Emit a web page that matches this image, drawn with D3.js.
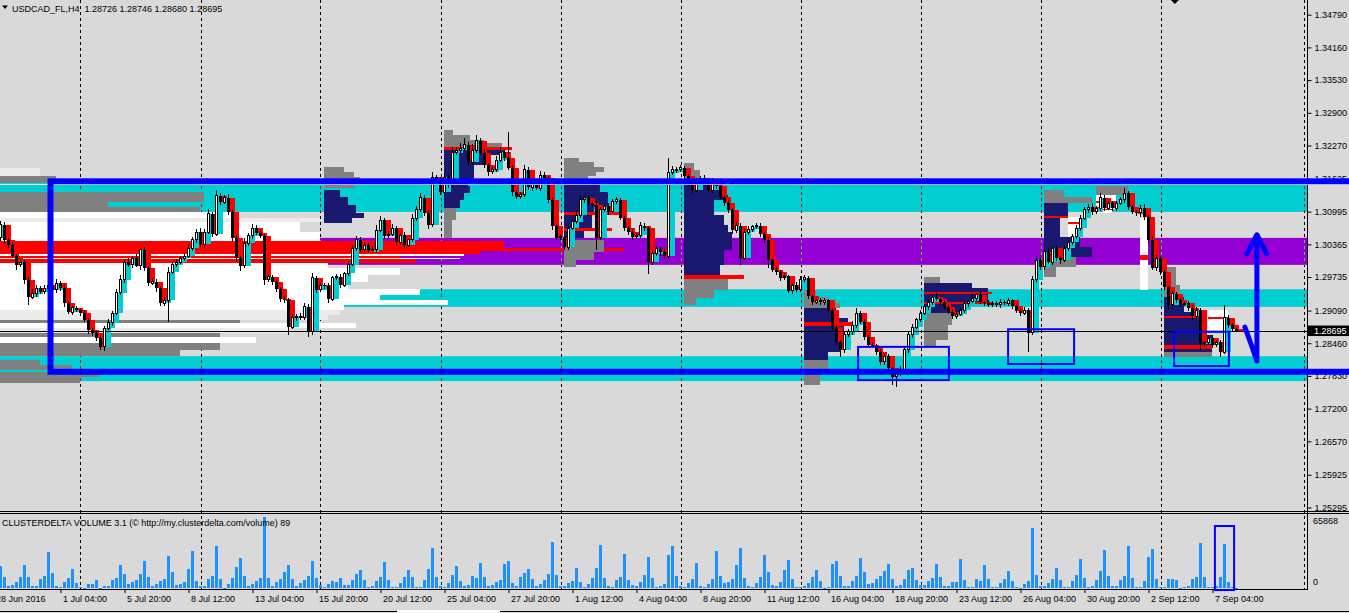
<!DOCTYPE html>
<html>
<head>
<meta charset="utf-8">
<script src="https://cdnjs.cloudflare.com/ajax/libs/d3/7.8.5/d3.min.js"></script>
<style>
html,body{margin:0;padding:0;background:#d9d9d9;overflow:hidden}
svg{display:block;font-family:"Liberation Sans",Arial,sans-serif;font-size:9px}
</style>
</head>
<body>
<div id="chart"></div>
<script>
// ---- data ----
const symbolTitle = "USDCAD_FL,H4  1.28726 1.28746 1.28680 1.28695";
const volTitle = "CLUSTERDELTA VOLUME 3.1 (\u00a9 http://my.clusterdelta.com/volume) 89";
const lastPrice = 1.28695;
const firstOpen = 1.3049;

const closes = [
1.3074,1.3045,1.3035,1.3014,1.2997,1.3002,1.2968,1.2935,1.2941,1.2952,
1.2945,1.2952,1.2958,1.2949,1.2962,1.2952,1.2923,1.2906,1.2914,1.2910,
1.2904,1.2891,1.2871,1.2866,1.2856,1.2839,1.2875,1.2885,1.2904,1.2943,
1.2968,1.3002,1.2997,1.3010,1.2995,1.3026,1.2991,1.2962,1.2964,1.2952,
1.2923,1.2929,1.2983,1.2997,1.3002,1.3010,1.3014,1.3029,1.3045,1.3060,
1.3037,1.3060,1.3095,1.3056,1.3130,1.3118,1.3126,1.3099,1.3049,1.3010,
1.2995,1.3039,1.3053,1.3068,1.3058,1.3053,1.2968,1.2974,1.2964,1.2950,
1.2931,1.2929,1.2877,1.2895,1.2898,1.2895,1.2916,1.2868,1.2972,1.2949,
1.2958,1.2956,1.2931,1.2972,1.2974,1.2958,1.2981,1.2997,1.3029,1.3045,
1.3026,1.3035,1.3026,1.3026,1.3064,1.3083,1.3053,1.3056,1.3068,1.3041,
1.3054,1.3035,1.3045,1.3087,1.3103,1.3126,1.3097,1.3074,1.3166,1.3160,
1.3137,1.3166,1.3151,1.3213,1.3218,1.3222,1.3228,1.3195,1.3218,1.3236,
1.3213,1.3189,1.3176,1.3180,1.3199,1.3214,1.3203,1.3184,1.3137,1.3128,
1.3132,1.3180,1.3147,1.3151,1.3145,1.3170,1.3164,1.3122,1.3072,1.3049,
1.3051,1.3031,1.3068,1.3080,1.3093,1.3122,1.3126,1.3116,1.3112,1.3049,
1.3103,1.3110,1.3099,1.3120,1.3122,1.3087,1.3068,1.3060,1.3051,1.3054,
1.3072,1.3068,1.3002,1.3018,1.3028,1.3022,1.3014,1.3174,1.3180,1.3180,
1.3184,1.3168,1.3155,1.3141,1.3157,1.3164,1.3160,1.3141,1.3157,1.3149,
1.3128,1.3116,1.3103,1.3064,1.3072,1.3010,1.3060,1.3066,1.3070,1.3072,
1.3056,1.3045,1.3006,1.2987,1.2983,1.2972,1.2975,1.2947,1.2958,1.2949,
1.2968,1.2972,1.2937,1.2925,1.2929,1.2925,1.2929,1.2910,1.2877,1.2848,
1.2833,1.2862,1.2868,1.2881,1.2904,1.2887,1.2858,1.2843,1.2841,1.2829,
1.2810,1.2821,1.2798,1.2781,1.2789,1.2794,1.2833,1.2862,1.2877,1.2891,
1.2904,1.2916,1.2925,1.2935,1.2931,1.2925,1.2916,1.2906,1.2898,1.2902,
1.2910,1.2922,1.2927,1.2933,1.2939,1.2925,1.2923,1.2920,1.2923,1.2920,
1.2925,1.2923,1.2929,1.2918,1.2908,1.2904,1.2910,1.2866,1.2968,1.3006,
1.2993,1.3022,1.3002,1.3029,1.3010,1.3006,1.3029,1.3041,1.3051,1.3068,
1.3087,1.3103,1.3108,1.3099,1.3106,1.3126,1.3106,1.3116,1.3106,1.3116,
1.3122,1.3135,1.3108,1.3099,1.3097,1.3106,1.3089,1.3045,1.2991,1.3010,
1.2983,1.2954,1.2920,1.2941,1.2929,1.2922,1.2923,1.2914,1.2898,1.2910,
1.2846,1.2848,1.2856,1.2843,1.2848,1.2829,1.2895,1.2881,1.28726,1.28695
];

// wick lengths beyond the body, in pips
const hiWick = [
8,5,4,6,3,7,4,5,9,6, 4,6,8,5,7,3,6,4,5,3, 4,6,3,5,4,6,5,8,4,7, 9,6,8,5,7,4,6,3,8,5,
4,6,9,5,7,4,6,8,5,7, 8,6,10,4,12,6,5,7,4,6, 5,9,6,7,5,8,4,6,3,5, 4,6,5,7,4,6,8,5,10,4,
6,5,7,4,6,5,3,7,6,8, 5,6,4,7,9,8,5,6,7,4, 5,6,4,8,7,10,5,6,10,5, 6,8,4,12,7,9,14,6,11,12,
5,7,4,6,8,10,6,50,5,4, 6,9,5,4,6,7,5,4,6,3, 5,4,8,6,7,9,5,6,4,7, 6,5,7,4,6,3,5,4,6,5,
7,5,4,6,5,4,6,29,8,5, 6,4,5,7,8,4,6,5,7,4, 5,4,6,3,7,5,8,6,4,5, 6,4,5,3,6,4,7,3,5,6,
8,5,4,3,6,4,5,3,4,5, 4,6,5,7,9,4,5,3,6,4, 5,7,4,3,6,8,5,7,6,4, 6,5,7,4,8,3,5,4,6,5,
4,6,5,7,4,5,3,6,4,5, 6,4,5,3,4,5,6,4,7,9, 5,6,8,4,7,5,6,4,5,6, 7,5,6,8,4,9,5,6,4,5,
6,10,4,5,3,6,8,5,7,6, 4,5,3,6,4,5,3,4,6,5, 4,3,5,6,4,5,25,6,4,2
];
const loWick = [
6,8,5,4,9,5,7,15,4,6, 5,4,6,3,7,5,8,4,6,3, 5,4,7,6,5,6,8,4,5,3, 4,6,5,7,3,8,5,6,4,7,
6,5,42,4,5,3,6,4,5,6, 5,7,4,6,3,5,4,6,8,7, 9,4,5,6,4,5,10,4,6,5, 6,5,15,4,6,5,4,10,6,7,
5,6,8,4,5,6,4,5,3,6, 4,5,7,3,5,4,6,5,4,8, 5,6,4,3,5,4,6,8,5,7, 5,4,6,5,4,6,5,7,4,5,
6,5,8,4,5,3,6,5,7,4, 5,4,6,7,3,5,4,6,8,5, 4,6,5,3,4,5,6,4,5,23, 5,4,6,3,5,4,6,5,7,4,
5,6,23,5,4,8,6,5,4,6, 5,4,6,5,4,6,5,4,6,5, 4,5,6,8,5,13,4,5,6,4, 5,6,15,4,5,6,4,5,6,4,
5,4,6,5,4,6,5,4,7,6, 13,5,4,6,5,4,6,5,4,5, 6,5,8,15,20,6,4,5,6,4, 5,4,6,5,4,6,5,4,5,6,
4,5,6,4,5,4,6,5,4,5, 6,4,5,6,4,5,4,37,5,4, 6,5,4,6,5,7,4,5,6,4, 5,4,6,5,4,6,5,4,6,5,
4,5,6,4,5,7,5,6,4,5, 6,5,8,4,5,6,4,5,7,4, 13,5,4,6,5,10,4,5,4,1.5
];

const volumes = [
20420,10210,1860,2780,5570,10210,21340,10210,1860,1860,
8350,11140,33410,13920,1860,930,5570,9280,17630,4640,
930,460,3710,3710,7420,300,1860,1860,7420,9280,
21340,12990,3710,5570,7420,12990,25060,10210,1860,3710,
6500,8350,29700,14850,2780,3710,5570,17630,34340,6500,
1860,1860,8350,11140,38980,8350,300,3710,9280,19490,
27840,11140,1860,3710,6500,9280,65868,9280,1860,5570,
8350,14850,21340,8350,1860,4640,7420,11140,25060,9280,
2780,930,3710,6500,5570,9280,2780,2780,7420,12990,
16700,7420,930,1860,6500,10210,24130,7420,930,930,
4640,10210,16700,10210,930,930,7420,17630,37120,10210,
1860,930,4640,12060,20420,6500,1860,2780,11140,9280,
23200,10210,1860,2780,5570,7420,22270,25060,4640,1860,
10210,13920,17630,8350,1860,3710,7420,12990,42690,12060,
1860,1860,4640,6500,18560,5570,930,3710,9280,18560,
39900,9280,1860,930,7420,10210,31550,7420,2780,1860,
5570,12060,28770,9280,930,1860,3710,30620,38980,11140,
1860,930,4640,8350,23200,1860,930,3710,8350,34340,
11140,4640,5570,8350,21340,37120,9280,1860,930,4640,
10210,30620,14850,2780,1860,5570,16700,25980,8350,930,
930,1860,4640,10210,16700,6500,300,930,22270,25060,
11140,1860,1860,6500,11140,27840,14850,3710,4640,8350,
11140,15780,22270,
8350,1860,2780,8350,16700,18560,7420,2780,2780,6500,
9280,22270,10210,1860,1860,5570,5570,26910,7420,930,
930,8350,6500,21340,8350,930,930,4640,8350,15780,
6500,930,300,3710,6500,55680,12060,1860,1860,4640,
8350,18560,7420,930,930,6500,12060,26910,9280,930,
1860,7420,15780,35260,11140,1860,1860,7420,11140,38980,
9280,930,930,6500,28770,36190,8350,930,930,8350,
8350,7420,300,930,1860,8350,10210,41760,10210,930,
930,1860,10210,40830,5570,930,460
];
const volMax = 65868;

const priceTicks = [1.34790,1.34160,1.33530,1.32900,1.32270,1.31625,1.30995,1.30365,1.29735,1.29090,1.28460,1.27830,1.27200,1.26570,1.25925,1.25295];
const timeIdx = [-1.75,15,31,47,63,79,95,111,127,143,159,175,191,207,223,239,255,271,287,303];
const timeLabels = ["28 Jun 2016","1 Jul 04:00","5 Jul 20:00","8 Jul 12:00","13 Jul 04:00","15 Jul 20:00","20 Jul 12:00","25 Jul 04:00","27 Jul 20:00","1 Aug 12:00","4 Aug 04:00","8 Aug 20:00","11 Aug 12:00","16 Aug 04:00","18 Aug 20:00","23 Aug 12:00","26 Aug 04:00","30 Aug 20:00","2 Sep 12:00","7 Sep 04:00"];
const gridIdx = [20,50,80,110,140,170,200,230,260,290,326];

// horizontal zones [top, bottom, kind]
const zones = [[1.3158,1.3099,"cyan"],[1.3049,1.2997,"purple"],[1.2950,1.2916,"cyan"],[1.2821,1.2773,"cyan"]];

// volume profiles: rows [priceTop, priceBottom, volume (bar units), kind]
const profAll = [
[1.3184,1.3168,10,"lt"],[1.3168,1.3155,14,"out"],
[1.3137,1.3118,51,"out"],[1.3118,1.3108,27,"out"],[1.3108,1.3099,50,"out"],
[1.3099,1.3087,59,"hv"],[1.3087,1.3080,80,"lt"],[1.3080,1.3060,75,"hv"],[1.3060,1.3043,80,"hv"],
[1.3043,1.3029,126,"poc"],[1.3029,1.3024,156,"poc"],[1.3024,1.3018,120,"poc"],[1.3018,1.3015,116,"hv"],
[1.3015,1.3011,100,"poc"],[1.3011,1.3008,115,"hv"],[1.3008,1.3000,104,"poc"],
[1.3000,1.2991,82,"hv"],[1.2991,1.2977,100,"hv"],[1.2977,1.2964,92,"hv"],[1.2964,1.2950,87,"hv"],
[1.2950,1.2939,105,"hv"],[1.2939,1.2929,95,"hv"],[1.2929,1.2920,112,"hv"],[1.2920,1.2910,86,"hv"],
[1.2910,1.2900,85,"lt"],[1.2900,1.2891,82,"lt"],[1.2891,1.2885,60,"out"],[1.2885,1.2875,89,"hv"],
[1.2875,1.2866,72,"lt"],[1.2866,1.2858,55,"out"],[1.2858,1.2846,64,"hv"],[1.2846,1.2833,55,"out"],
[1.2833,1.2821,45,"out"],[1.2814,1.2804,10,"out"],[1.2804,1.2794,18,"out"],[1.2790,1.2781,25,"out"],[1.2781,1.2769,20,"out"]
];
const profWk1 = [
[1.3185,1.3176,5,"out"],[1.3176,1.3166,7.5,"out"],[1.3166,1.3157,9,"out"],[1.3157,1.3145,7.5,"out"],
[1.3141,1.3128,4,"va"],[1.3128,1.3112,6,"va"],[1.3112,1.3097,8,"va"],[1.3097,1.3087,10,"va"],[1.3087,1.3078,7,"va"]
];
const profWk2 = [
[1.3257,1.3247,2.25,"out"],[1.3247,1.3238,6.5,"out"],[1.3238,1.3232,10,"out"],[1.3232,1.3224,14.5,"out"],
[1.3224,1.3218,17,"poc"],[1.3218,1.3209,15,"va"],[1.3209,1.3189,10,"va"],[1.3189,1.3160,7.5,"va"],
[1.3160,1.3149,6,"va"],[1.3149,1.3135,6.5,"va"],[1.3135,1.3122,5,"va"],[1.3122,1.3107,4,"va"],[1.3107,1.3083,3,"out"],[1.3083,1.3049,2,"out"]
];
const profWk3 = [
[1.3203,1.3195,3.75,"out"],[1.3195,1.3185,7.5,"out"],[1.3185,1.3176,10,"out"],[1.3176,1.3168,8,"out"],[1.3168,1.3160,6,"out"],
[1.3160,1.3137,9,"va"],[1.3137,1.3108,11,"va"],[1.3108,1.3099,7.5,"va"],[1.3099,1.3093,15,"poc"],[1.3093,1.3068,7,"va"],
[1.3068,1.3062,12,"poc"],[1.3062,1.3049,5,"va"],[1.3045,1.3022,10,"out"],[1.3022,1.3006,7.5,"out"],[1.3006,1.2993,3,"out"]
];
const profWk4 = [
[1.3193,1.3180,2.5,"out"],[1.3180,1.3160,4,"out"],
[1.3160,1.3132,9,"va"],[1.3132,1.3122,11,"va"],[1.3122,1.3093,7.5,"va"],[1.3093,1.3074,10,"va"],[1.3074,1.3060,11,"va"],
[1.3060,1.3026,12,"va"],[1.3026,1.2997,10,"va"],[1.2997,1.2977,9,"va"],[1.2977,1.2970,15,"poc"],
[1.2970,1.2949,11,"out"],[1.2949,1.2933,7.5,"out"],[1.2933,1.2920,3,"out"]
];
const profWk5 = [
[1.2949,1.2935,3,"out"],[1.2935,1.2923,6,"out"],[1.2923,1.2914,9,"out"],
[1.2914,1.2895,8,"va"],[1.2895,1.2887,11,"va"],[1.2887,1.2879,12,"poc"],[1.2879,1.2852,10,"va"],[1.2852,1.2829,9,"va"],[1.2829,1.2814,6,"va"],
[1.2814,1.2794,6,"out"],[1.2794,1.2765,4,"out"]
];
const profWk6 = [
[1.2974,1.2962,4,"out"],[1.2962,1.2952,12,"va"],[1.2952,1.2945,16,"va"],[1.2945,1.2941,17,"poc"],[1.2941,1.2925,16,"va"],
[1.2925,1.2921,17,"poc"],[1.2921,1.2904,10,"va"],[1.2904,1.2881,7,"out"],[1.2881,1.2852,6,"out"],[1.2852,1.2839,3,"out"]
];
const profWk7 = [
[1.3141,1.3128,5,"out"],[1.3128,1.3116,12,"out"],[1.3116,1.3091,6,"va"],[1.3091,1.3087,6,"poc"],[1.3087,1.3051,4,"va"],
[1.3051,1.3031,9,"va"],[1.3031,1.3012,12,"va"],[1.3012,1.2993,8,"out"],[1.2993,1.2974,3,"out"]
];
const profWk8 = [
[1.2993,1.2958,3,"out"],[1.2958,1.2935,4,"out"],[1.2935,1.2906,5,"va"],[1.2906,1.2898,8,"va"],[1.2898,1.2895,9,"poc"],
[1.2895,1.2862,10,"va"],[1.2862,1.2843,12,"va"],[1.2843,1.2835,12,"poc"],[1.2835,1.2829,12,"va"],[1.2829,1.2819,12,"out"]
];
const profDay1 = [[1.3089,1.3080,3,"hv"],[1.3080,1.3076,3,"poc"],[1.3076,1.3051,3,"hv"]];
const profDay2 = [[1.3149,1.3132,8,"out"],[1.3132,1.3120,5,"hv"],[1.3120,1.3117,5,"poc"],[1.3117,1.3105,5,"hv"],[1.3105,1.3102,4,"poc"],[1.3102,1.3097,4,"hv"]];
const profDay3 = [[1.3087,1.3016,2,"hv"],[1.3016,1.3006,2,"poc"],[1.3006,1.2949,2,"hv"]];
const profDay4 = [[1.2910,1.2896,5,"hv"],[1.2896,1.2893,5,"poc"],[1.2893,1.2871,5,"hv"]];
const profiles = [[0,profAll],[81,profWk1],[111,profWk2],[141,profWk3],[171,profWk4],[201,profWk5],[231,profWk6],[261,profWk7],[291,profWk8],[267,profDay1],[274,profDay2],[285,profDay3],[302,profDay4]];

// drawn annotations, in bar index / price
const bigBox = [12.5, 340, 1.3158, 1.2791];
const boxes = [[214.4,237.1,1.2839,1.2775],[251.9,268.4,1.2873,1.2806],[293.4,307.1,1.2868,1.2802]];
const volBox = [303.6, 308.4, -1900, 57500];
const arrowPath = [[311.1,1.2877],[312.6,1.2845],[314.1,1.2812],[314.1,1.3049]];
const arrowHead = [[311.6,1.3018],[314.1,1.3055],[316.6,1.3018]];
const whiteLine = 1.3152;

// ---- styles ----
const W = 1349, H = 613, plotRight = 1307, mainBottom = 511, volBottom = 589;
const zoneFill = {cyan:"#00ced1", purple:"#9400d3"};
const dashOver = {cyan:"#ff0000", purple:"#44dd00"};
const profFill = {out:"#808080", va:"#191970", poc:"#ff0000", hv:"#ffffff", lt:"#ebebeb"};

const x = d3.scaleLinear().domain([0,309]).range([0.5,1236.5]);
const y = d3.scaleLinear().domain([1.25295,1.34790]).range([507.5,14.7]);
const yv = d3.scaleLinear().domain([0,volMax]).range([588,517]);
const unit = x(1) - x(0);

const bars = closes.map((c,i) => {
    const o = i ? closes[i-1] : firstOpen;
    return {i, o, c, h: Math.max(o,c) + hiWick[i]/1e4, l: Math.min(o,c) - loWick[i]/1e4};
});

const svg = d3.select("#chart").append("svg").attr("width",W).attr("height",H);
svg.append("rect").attr("width",W).attr("height",H).attr("fill","#d9d9d9");
svg.append("defs").append("clipPath").attr("id","plot")
    .append("rect").attr("width",plotRight).attr("height",mainBottom);
svg.select("defs").append("clipPath").attr("id","vplot")
    .append("rect").attr("y",514).attr("width",plotRight).attr("height",volBottom-514);

// zones
svg.append("g").attr("clip-path","url(#plot)").selectAll("rect").data(zones).join("rect")
    .attr("x",0).attr("width",plotRight)
    .attr("y",d=>y(d[0])).attr("height",d=>y(d[1])-y(d[0]))
    .attr("fill",d=>zoneFill[d[2]]);

// grid
const gridG = svg.append("g");
gridG.selectAll("line").data(gridIdx).join("line")
    .attr("x1",d=>Math.round(x(d))+0.5).attr("x2",d=>Math.round(x(d))+0.5)
    .attr("y1",0).attr("y2",volBottom)
    .attr("stroke","#000").attr("stroke-dasharray","3,3");
const overs = [];
gridIdx.forEach(g => zones.forEach(z => overs.push({g, z})));
gridG.selectAll(".ov").data(overs).join("line").attr("class","ov")
    .attr("x1",d=>Math.round(x(d.g))+0.5).attr("x2",d=>Math.round(x(d.g))+0.5)
    .attr("y1",d=>y(d.z[0])).attr("y2",d=>y(d.z[1]))
    .attr("stroke-dasharray","3,3").attr("stroke-dashoffset",d=>y(d.z[0]) % 6)
    .attr("stroke",d=>dashOver[d.z[2]]);

const main = svg.append("g").attr("clip-path","url(#plot)");

// profiles
profiles.forEach(([anchor, rows]) => {
    main.append("g").selectAll("rect").data(rows).join("rect")
        .attr("x",x(anchor)-0.5)
        .attr("width",d=>d[2]*unit)
        .attr("y",d=>y(d[0]))
        .attr("height",d=>Math.max(1,y(d[1])-y(d[0])))
        .attr("fill",d=>profFill[d[3]])
        .attr("shape-rendering","crispEdges");
});

// delta shading behind candles
main.append("g").selectAll("rect").data(bars).join("rect")
    .attr("x",d=>x(d.i)+1.5).attr("width",5)
    .attr("y",d=>y(Math.max(d.o,d.c)))
    .attr("height",d=>Math.max(2,Math.abs(y(d.o)-y(d.c))))
    .attr("fill",d=>d.c>=d.o ? "#00ced1" : "#ff0000")
    .attr("shape-rendering","crispEdges");

// current price line
main.append("line").attr("x1",0).attr("x2",plotRight)
    .attr("y1",Math.round(y(lastPrice))+0.5).attr("y2",Math.round(y(lastPrice))+0.5)
    .attr("stroke","#000");

// candles
const cg = main.append("g").attr("shape-rendering","crispEdges");
cg.selectAll("line").data(bars).join("line")
    .attr("x1",d=>x(d.i)).attr("x2",d=>x(d.i))
    .attr("y1",d=>y(d.h)).attr("y2",d=>y(d.l))
    .attr("stroke","#000");
cg.selectAll("rect").data(bars).join("rect")
    .attr("x",d=>d.c>=d.o ? x(d.i)-1 : x(d.i)-1.5)
    .attr("width",d=>d.c>=d.o ? 2 : 3)
    .attr("y",d=>y(Math.max(d.o,d.c)))
    .attr("height",d=>Math.max(1,Math.abs(y(d.o)-y(d.c))))
    .attr("fill",d=>d.c>=d.o ? "#fff" : "#000")
    .attr("stroke",d=>d.c>=d.o ? "#000" : "none");

// volume bars
svg.append("g").attr("clip-path","url(#vplot)").selectAll("rect").data(volumes).join("rect")
    .attr("x",(d,i)=>x(i)-1.5).attr("width",3)
    .attr("y",d=>yv(d)).attr("height",d=>Math.max(1,yv(0)-yv(d)))
    .attr("fill","#1e90ff").attr("shape-rendering","crispEdges");

// panel frames
const frame = svg.append("g").attr("stroke","#000").attr("shape-rendering","crispEdges");
frame.append("line").attr("x1",0).attr("x2",W).attr("y1",mainBottom+0.5).attr("y2",mainBottom+0.5);
frame.append("line").attr("x1",0).attr("x2",W).attr("y1",mainBottom+2.5).attr("y2",mainBottom+2.5);
frame.append("line").attr("x1",0).attr("x2",plotRight+1).attr("y1",volBottom+0.5).attr("y2",volBottom+0.5);
frame.append("line").attr("x1",plotRight+0.5).attr("x2",plotRight+0.5).attr("y1",0).attr("y2",volBottom);

// price axis
const pAxis = svg.append("g").attr("transform",`translate(${plotRight+0.5},0)`)
    .call(d3.axisRight(y).tickValues(priceTicks).tickFormat(d3.format(".5f")).tickSize(4).tickSizeOuter(0));
pAxis.select(".domain").remove();
pAxis.selectAll("text").attr("font-family","Liberation Sans, Arial").attr("font-size",9).attr("fill","#000");

// last price label
svg.append("rect").attr("x",plotRight+1).attr("y",y(lastPrice)-5.5).attr("width",W-plotRight).attr("height",10.5).attr("fill","#000");
svg.append("text").attr("x",plotRight+7).attr("y",y(lastPrice)+3.3).attr("fill","#fff").text(d3.format(".5f")(lastPrice));

// time axis
const tAxis = svg.append("g").attr("transform",`translate(0,${volBottom})`)
    .call(d3.axisBottom(x).tickValues(timeIdx).tickFormat((d,k)=>timeLabels[k]).tickSize(4).tickSizeOuter(0));
tAxis.select(".domain").remove();
tAxis.selectAll("text").attr("text-anchor","start").attr("x",2)
    .attr("font-family","Liberation Sans, Arial").attr("font-size",9).attr("fill","#000");

// volume axis labels
svg.append("text").attr("x",plotRight+6).attr("y",yv(volMax)+7).text(volMax);
svg.append("text").attr("x",plotRight+6).attr("y",yv(0)-3).text("0");

// titles
svg.append("path").attr("d","M2,5.5 L8,5.5 L5,9 Z").attr("fill","#000");
svg.append("text").attr("x",12).attr("y",11.5).attr("xml:space","preserve").text(symbolTitle);
svg.append("text").attr("x",2).attr("y",526).text(volTitle);

// chart shift marker
svg.append("path").attr("d",`M${x(293.6)-4},0 L${x(293.6)+4},0 L${x(293.6)},4 Z`).attr("fill","#000");

// annotations
const ann = svg.append("g").attr("fill","none").attr("stroke","#0000ff");
ann.append("line").attr("x1",0).attr("x2",W).attr("y1",y(whiteLine)).attr("y2",y(whiteLine)).attr("stroke","#fff");
ann.append("rect").attr("stroke-width",6)
    .attr("x",x(bigBox[0])).attr("width",x(bigBox[1])-x(bigBox[0]))
    .attr("y",y(bigBox[2])).attr("height",y(bigBox[3])-y(bigBox[2]));
ann.selectAll(".bx").data(boxes).join("rect").attr("class","bx").attr("stroke-width",2)
    .attr("x",d=>x(d[0])).attr("width",d=>x(d[1])-x(d[0]))
    .attr("y",d=>y(d[2])).attr("height",d=>y(d[3])-y(d[2]));
ann.append("rect").attr("stroke-width",2)
    .attr("x",x(volBox[0])).attr("width",x(volBox[1])-x(volBox[0]))
    .attr("y",yv(volBox[3])).attr("height",yv(volBox[2])-yv(volBox[3]));
const ln = d3.line().x(d=>x(d[0])).y(d=>y(d[1])).curve(d3.curveLinear);
ann.append("path").attr("d",ln(arrowPath)).attr("stroke-width",5).attr("stroke-linejoin","round").attr("stroke-linecap","round");
ann.append("path").attr("d",ln(arrowHead)).attr("stroke-width",5).attr("stroke-linejoin","round").attr("stroke-linecap","round");

// bottom window edge
svg.append("line").attr("x1",0).attr("x2",397).attr("y1",611.5).attr("y2",611.5).attr("stroke","#000");
svg.append("line").attr("x1",500).attr("x2",W).attr("y1",611.5).attr("y2",611.5).attr("stroke","#000");
svg.append("rect").attr("x",397).attr("y",610).attr("width",103).attr("height",3).attr("fill","#fff");
</script>
</body>
</html>
